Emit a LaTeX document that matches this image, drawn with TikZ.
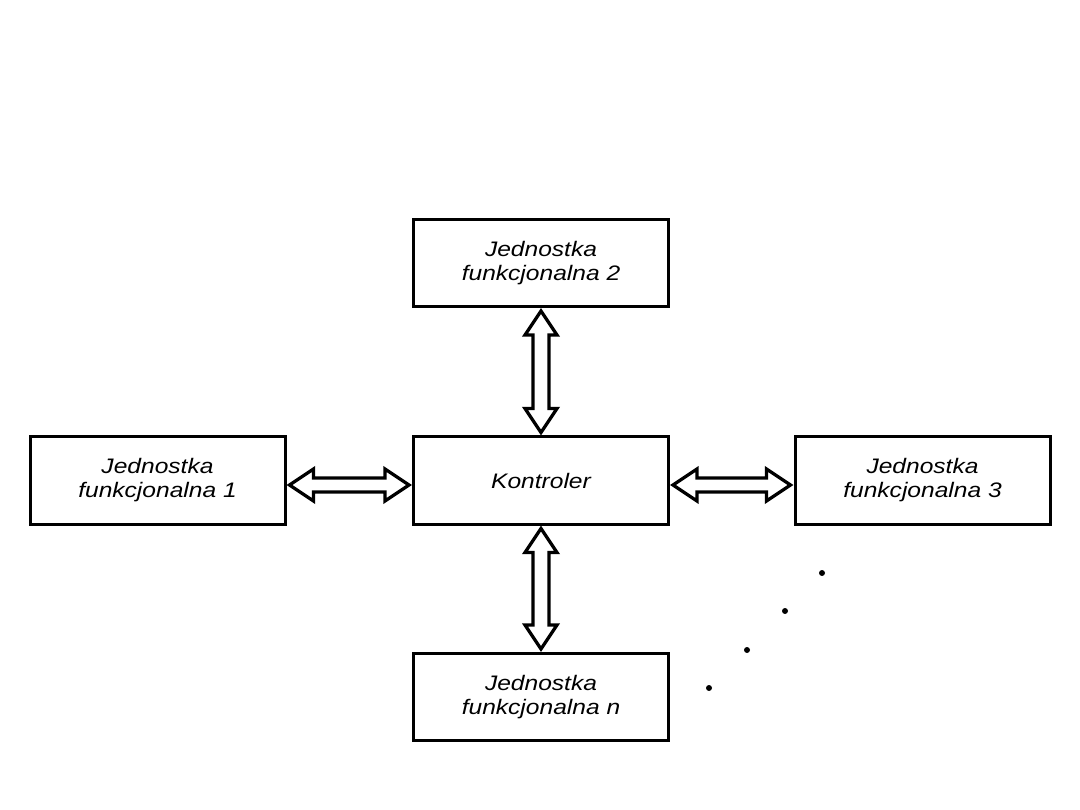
\documentclass[tikz,border=0pt]{standalone}
\usepackage{fontspec}
\setmainfont{Liberation Sans}
\newfontfamily\boxfont[FakeStretch=1.17]{Liberation Sans}
\usetikzlibrary{calc}
\begin{document}
\begin{tikzpicture}[x=1pt,y=-1pt,
  box/.style={draw, line width=3pt, minimum width=255pt, minimum height=87pt, inner sep=0pt,
    align=center, font=\boxfont\itshape\fontsize{21}{24}\selectfont},
  blockarrow/.style={draw, line width=3.3pt, fill=white, line join=miter},
  dotmark/.style={fill, circle, inner sep=0pt, minimum size=6pt}]
\useasboundingbox (0,0) rectangle (1080,810);
\node[box] (u2) at (541,263) {Jednostka\\funkcjonalna 2};
\node[box] (u1) at (157.5,480.5) {Jednostka\\funkcjonalna 1};
\node[box] (k) at (541,480.5) {Kontroler};
\node[box] (u3) at (922.5,480.5) {Jednostka\\funkcjonalna 3};
\node[box] (un) at (541,697) {Jednostka\\funkcjonalna n};
% horizontal arrows
\foreach \a/\b in {u1/k, k/u3}{
\draw[blockarrow] let \p1=(\a.east), \p2=(\b.west), \n1={\y1-4.5pt} in
  (\x1+3pt,\n1) -- (\x1+27pt,\n1+16pt) -- (\x1+27pt,\n1+7pt) -- (\x2-27pt,\n1+7pt)
  -- (\x2-27pt,\n1+16pt) -- (\x2-3pt,\n1) -- (\x2-27pt,\n1-16pt) -- (\x2-27pt,\n1-7pt)
  -- (\x1+27pt,\n1-7pt) -- (\x1+27pt,\n1-16pt) -- cycle;
}
% vertical arrows
\foreach \a/\b in {u2/k, k/un}{
\draw[blockarrow] let \p1=(\a.south), \p2=(\b.north) in
  (\x1,\y1-3pt) -- (\x1+16pt,\y1-27pt) -- (\x1+8pt,\y1-27pt) -- (\x1+8pt,\y2+27pt)
  -- (\x1+16pt,\y2+27pt) -- (\x1,\y2+3pt) -- (\x1-16pt,\y2+27pt) -- (\x1-8pt,\y2+27pt)
  -- (\x1-8pt,\y1-27pt) -- (\x1-16pt,\y1-27pt) -- cycle;
}
\node[dotmark] (d1) at (822,573) {};
\node[dotmark] (d2) at (785,611) {};
\node[dotmark] (d3) at (747,650) {};
\node[dotmark] (d4) at (709,688) {};
\end{tikzpicture}
\end{document}
